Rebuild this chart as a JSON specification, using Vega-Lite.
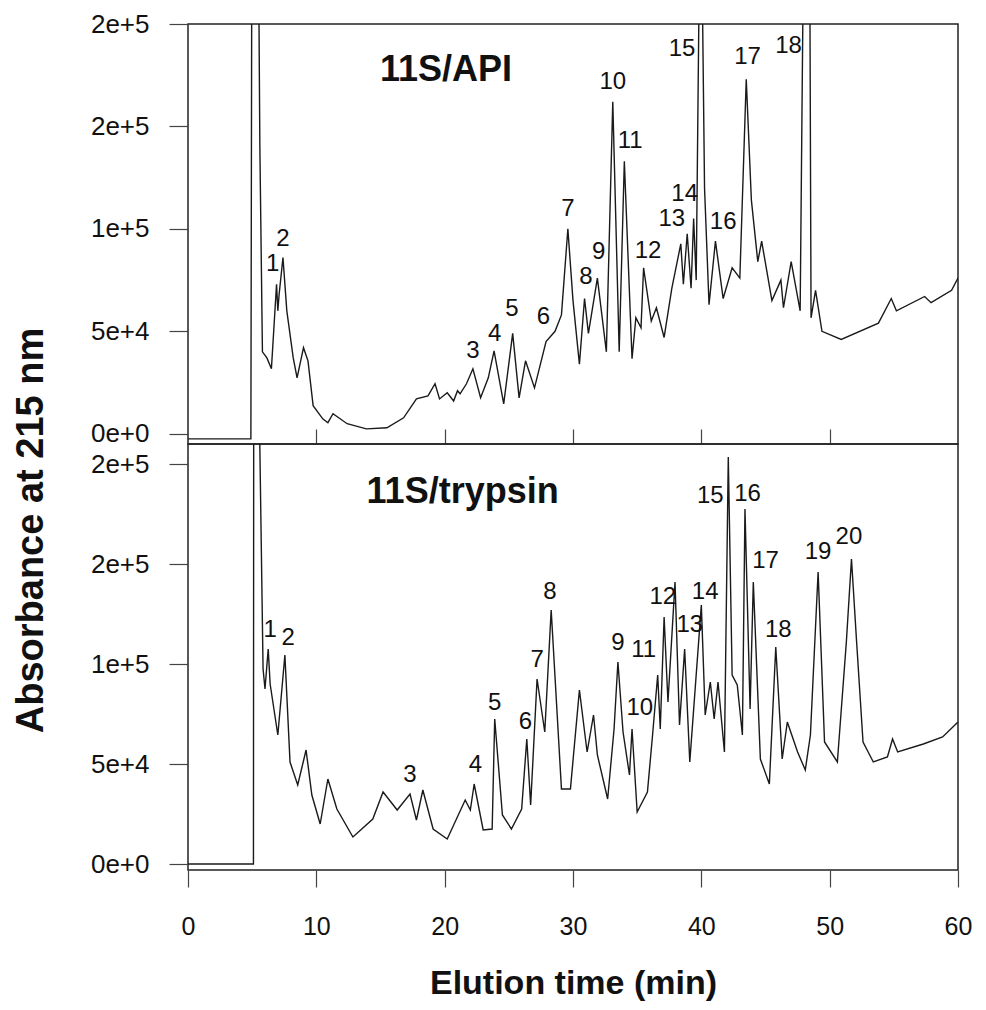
{
  "$schema": "https://vega.github.io/schema/vega-lite/v6.json",
  "background": "white",
  "padding": {"left": 11, "top": 10, "right": 5, "bottom": 5},
  "spacing": 0,
  "bounds": "flush",
  "config": {
    "font": "Liberation Sans",
    "view": {"stroke": "#222", "strokeWidth": 1.5},
    "axis": {"grid": false, "domain": false, "tickColor": "#444", "tickWidth": 1.2, "labelColor": "#111", "titleColor": "#111", "labelFont": "Liberation Sans", "titleFont": "Liberation Sans"}
  },
  "datasets": {
    "api": [
      {"t": 0, "a": -2500}, {"t": 4.9, "a": -2500}, {"t": 4.97, "a": 230000}, {"t": 5.5, "a": 230000},
      {"t": 5.6, "a": 140000}, {"t": 5.8, "a": 40000}, {"t": 6.15, "a": 37000}, {"t": 6.5, "a": 31700},
      {"t": 6.9, "a": 73000}, {"t": 7.0, "a": 60000}, {"t": 7.1, "a": 68000}, {"t": 7.4, "a": 86000},
      {"t": 7.7, "a": 60000}, {"t": 8.2, "a": 37000}, {"t": 8.5, "a": 27300}, {"t": 9.0, "a": 42000},
      {"t": 9.35, "a": 35600}, {"t": 9.75, "a": 13700}, {"t": 10.5, "a": 7300}, {"t": 10.9, "a": 5400},
      {"t": 11.3, "a": 9800}, {"t": 12.4, "a": 4900}, {"t": 13.9, "a": 2400}, {"t": 15.5, "a": 2900},
      {"t": 16.8, "a": 7800}, {"t": 17.8, "a": 17000}, {"t": 18.7, "a": 18500}, {"t": 19.25, "a": 24400},
      {"t": 19.6, "a": 17000}, {"t": 20.2, "a": 20000}, {"t": 20.7, "a": 16000}, {"t": 21.0, "a": 21000},
      {"t": 21.2, "a": 19500}, {"t": 21.7, "a": 24400}, {"t": 22.2, "a": 31700}, {"t": 22.8, "a": 17600},
      {"t": 23.4, "a": 27300}, {"t": 23.85, "a": 40500}, {"t": 24.6, "a": 14600}, {"t": 25.3, "a": 49000},
      {"t": 25.8, "a": 17500}, {"t": 26.3, "a": 35600}, {"t": 27.0, "a": 22400}, {"t": 27.9, "a": 45000},
      {"t": 28.6, "a": 50000}, {"t": 29.1, "a": 58000}, {"t": 29.6, "a": 100000}, {"t": 30.0, "a": 65000},
      {"t": 30.5, "a": 34000}, {"t": 30.9, "a": 66000}, {"t": 31.2, "a": 49000}, {"t": 31.9, "a": 76000},
      {"t": 32.6, "a": 40000}, {"t": 33.1, "a": 162000}, {"t": 33.6, "a": 40000}, {"t": 34.0, "a": 133000},
      {"t": 34.6, "a": 36600}, {"t": 34.9, "a": 56600}, {"t": 35.3, "a": 51700}, {"t": 35.5, "a": 81000},
      {"t": 36.1, "a": 55000}, {"t": 36.5, "a": 61500}, {"t": 37.1, "a": 47000}, {"t": 37.7, "a": 71000},
      {"t": 38.4, "a": 92700}, {"t": 38.6, "a": 73000}, {"t": 38.9, "a": 97600}, {"t": 39.2, "a": 71000},
      {"t": 39.4, "a": 105000}, {"t": 39.6, "a": 75000}, {"t": 39.85, "a": 230000}, {"t": 40.05, "a": 230000},
      {"t": 40.25, "a": 120000}, {"t": 40.6, "a": 63000}, {"t": 41.1, "a": 94000}, {"t": 41.7, "a": 66000},
      {"t": 42.4, "a": 81000}, {"t": 43.0, "a": 76000}, {"t": 43.5, "a": 173000}, {"t": 43.9, "a": 114000},
      {"t": 44.4, "a": 84000}, {"t": 44.7, "a": 94000}, {"t": 45.5, "a": 65000}, {"t": 46.2, "a": 75000},
      {"t": 46.4, "a": 61500}, {"t": 47.0, "a": 84000}, {"t": 47.7, "a": 60000}, {"t": 47.95, "a": 230000},
      {"t": 48.45, "a": 230000}, {"t": 48.55, "a": 56600}, {"t": 48.9, "a": 70000}, {"t": 49.4, "a": 50000},
      {"t": 50.9, "a": 46000}, {"t": 53.8, "a": 54000}, {"t": 54.8, "a": 66000}, {"t": 55.2, "a": 60000},
      {"t": 57.4, "a": 67000}, {"t": 57.9, "a": 64000}, {"t": 59.5, "a": 70000}, {"t": 60, "a": 76000}
    ],
    "apiLab": [
      {"t": 6.6, "a": 79500, "label": "1"}, {"t": 7.4, "a": 91700, "label": "2"},
      {"t": 22.2, "a": 37100, "label": "3"}, {"t": 23.9, "a": 45400, "label": "4"},
      {"t": 25.25, "a": 57600, "label": "5"}, {"t": 27.7, "a": 53700, "label": "6"},
      {"t": 29.6, "a": 106400, "label": "7"}, {"t": 31.0, "a": 73200, "label": "8"},
      {"t": 32.0, "a": 85400, "label": "9"}, {"t": 33.1, "a": 168400, "label": "10"},
      {"t": 34.45, "a": 139600, "label": "11"}, {"t": 35.85, "a": 85900, "label": "12"},
      {"t": 37.7, "a": 101500, "label": "13"}, {"t": 38.7, "a": 113700, "label": "14"},
      {"t": 38.5, "a": 184500, "label": "15"}, {"t": 41.7, "a": 100000, "label": "16"},
      {"t": 43.6, "a": 180600, "label": "17"}, {"t": 46.8, "a": 186000, "label": "18"}
    ],
    "apiTitle": [{"t": 20.1, "a": 172300, "label": "11S/API"}],
    "tryp": [
      {"t": 0, "a": 0}, {"t": 5.1, "a": 0}, {"t": 5.12, "a": 230000}, {"t": 5.55, "a": 230000},
      {"t": 5.85, "a": 97500}, {"t": 6.0, "a": 87500}, {"t": 6.25, "a": 107500}, {"t": 6.4, "a": 90000},
      {"t": 7.0, "a": 64500}, {"t": 7.55, "a": 104500}, {"t": 7.95, "a": 51000}, {"t": 8.55, "a": 39500},
      {"t": 9.2, "a": 57000}, {"t": 9.65, "a": 34500}, {"t": 10.3, "a": 20000}, {"t": 10.9, "a": 42500},
      {"t": 11.6, "a": 27500}, {"t": 12.85, "a": 13500}, {"t": 14.4, "a": 22500}, {"t": 15.2, "a": 36000},
      {"t": 16.3, "a": 27000}, {"t": 17.3, "a": 35000}, {"t": 17.8, "a": 22000}, {"t": 18.3, "a": 37000},
      {"t": 19.1, "a": 17500}, {"t": 20.2, "a": 12500}, {"t": 21.6, "a": 32000}, {"t": 22.0, "a": 27000},
      {"t": 22.3, "a": 40000}, {"t": 23.0, "a": 17000}, {"t": 23.7, "a": 17500}, {"t": 23.9, "a": 72500},
      {"t": 24.5, "a": 24500}, {"t": 25.2, "a": 17500}, {"t": 26.0, "a": 27500}, {"t": 26.4, "a": 62500},
      {"t": 26.7, "a": 29500}, {"t": 27.2, "a": 92500}, {"t": 27.8, "a": 66000}, {"t": 28.3, "a": 127000},
      {"t": 29.1, "a": 37500}, {"t": 29.8, "a": 37500}, {"t": 30.5, "a": 87000}, {"t": 31.1, "a": 56000},
      {"t": 31.6, "a": 74500}, {"t": 31.9, "a": 54500}, {"t": 32.7, "a": 32500}, {"t": 33.2, "a": 67500},
      {"t": 33.5, "a": 101000}, {"t": 33.9, "a": 66000}, {"t": 34.4, "a": 44500}, {"t": 34.6, "a": 67500},
      {"t": 35.0, "a": 26000}, {"t": 35.8, "a": 36000}, {"t": 36.2, "a": 64500}, {"t": 36.6, "a": 94500},
      {"t": 36.8, "a": 67500}, {"t": 37.1, "a": 123500}, {"t": 37.4, "a": 81000}, {"t": 37.95, "a": 141000},
      {"t": 38.3, "a": 69500}, {"t": 38.7, "a": 107500}, {"t": 39.1, "a": 51000}, {"t": 40.0, "a": 129500},
      {"t": 40.3, "a": 74500}, {"t": 40.7, "a": 91000}, {"t": 41.0, "a": 72500}, {"t": 41.3, "a": 91000},
      {"t": 41.8, "a": 56000}, {"t": 42.1, "a": 203500}, {"t": 42.4, "a": 94500}, {"t": 42.8, "a": 89500},
      {"t": 43.2, "a": 64500}, {"t": 43.4, "a": 177500}, {"t": 43.8, "a": 77500}, {"t": 44.05, "a": 141000},
      {"t": 44.6, "a": 52500}, {"t": 45.3, "a": 40000}, {"t": 45.8, "a": 108500}, {"t": 46.3, "a": 52500},
      {"t": 46.7, "a": 71000}, {"t": 47.5, "a": 56000}, {"t": 48.1, "a": 47000}, {"t": 48.5, "a": 64500},
      {"t": 49.1, "a": 146000}, {"t": 49.6, "a": 61000}, {"t": 50.6, "a": 51000}, {"t": 51.3, "a": 111000},
      {"t": 51.7, "a": 152500}, {"t": 52.1, "a": 111000}, {"t": 52.6, "a": 61000}, {"t": 53.4, "a": 51000},
      {"t": 54.5, "a": 53500}, {"t": 54.9, "a": 62500}, {"t": 55.3, "a": 56000}, {"t": 57.3, "a": 60000},
      {"t": 58.8, "a": 63500}, {"t": 60, "a": 71000}
    ],
    "trypLab": [
      {"t": 6.4, "a": 113700, "label": "1"}, {"t": 7.8, "a": 109700, "label": "2"},
      {"t": 17.3, "a": 41100, "label": "3"}, {"t": 22.4, "a": 46100, "label": "4"},
      {"t": 23.9, "a": 77200, "label": "5"}, {"t": 26.3, "a": 67600, "label": "6"},
      {"t": 27.2, "a": 98700, "label": "7"}, {"t": 28.2, "a": 132300, "label": "8"},
      {"t": 33.5, "a": 107200, "label": "9"}, {"t": 35.2, "a": 74600, "label": "10"},
      {"t": 35.5, "a": 103700, "label": "11"}, {"t": 37.0, "a": 129800, "label": "12"},
      {"t": 39.1, "a": 116200, "label": "13"}, {"t": 40.3, "a": 132300, "label": "14"},
      {"t": 40.7, "a": 180400, "label": "15"}, {"t": 43.6, "a": 181400, "label": "16"},
      {"t": 45.0, "a": 147800, "label": "17"}, {"t": 46.0, "a": 113700, "label": "18"},
      {"t": 49.1, "a": 152300, "label": "19"}, {"t": 51.5, "a": 159800, "label": "20"}
    ],
    "trypTitle": [{"t": 21.4, "a": 180400, "label": "11S/trypsin"}]
  },
  "vconcat": [
    {
      "width": 770,
      "height": 420,
      "encoding": {
        "x": {
          "field": "t", "type": "quantitative",
          "scale": {"domain": [0, 60], "nice": false, "zero": false},
          "axis": {"values": [10, 20, 30, 40, 50], "labels": false, "tickSize": -15, "title": null}
        },
        "y": {
          "field": "a", "type": "quantitative",
          "scale": {"domain": [-5000, 200000], "nice": false, "zero": false},
          "axis": {
            "values": [0, 50000, 100000, 150000, 200000], "format": ".0e",
            "tickSize": 19, "labelPadding": 20, "labelFontSize": 26,
            "title": "Absorbance at 215 nm", "titleAngle": -90, "titleX": -146, "titleY": 506,
            "titleAlign": "center", "titleBaseline": "alphabetic", "titleFontSize": 38, "titleFontWeight": "bold"
          }
        }
      },
      "layer": [
        {"data": {"name": "api"}, "mark": {"type": "line", "clip": true, "color": "#1a1a1a", "strokeWidth": 1.4}},
        {"data": {"name": "apiLab"}, "mark": {"type": "text", "fontSize": 24, "align": "center", "baseline": "alphabetic", "color": "#111"}, "encoding": {"text": {"field": "label"}}},
        {"data": {"name": "apiTitle"}, "mark": {"type": "text", "fontSize": 36, "fontWeight": "bold", "align": "center", "baseline": "alphabetic", "color": "#111"}, "encoding": {"text": {"field": "label"}}}
      ]
    },
    {
      "width": 770,
      "height": 426,
      "encoding": {
        "x": {
          "field": "t", "type": "quantitative",
          "scale": {"domain": [0, 60], "nice": false, "zero": false},
          "axis": {"values": [0, 10, 20, 30, 40, 50, 60], "tickSize": 17, "labelPadding": 27, "labelFontSize": 25, "labelFlush": false,
            "title": "Elution time (min)", "titleFontSize": 34, "titleFontWeight": "bold", "titlePadding": 27}
        },
        "y": {
          "field": "a", "type": "quantitative",
          "scale": {"domain": [-3000, 210000], "nice": false, "zero": false},
          "axis": {"values": [0, 50000, 100000, 150000, 200000], "format": ".0e", "tickSize": 19, "labelPadding": 20, "labelFontSize": 26, "title": null}
        }
      },
      "layer": [
        {"data": {"name": "tryp"}, "mark": {"type": "line", "clip": true, "color": "#1a1a1a", "strokeWidth": 1.4}},
        {"data": {"name": "trypLab"}, "mark": {"type": "text", "fontSize": 24, "align": "center", "baseline": "alphabetic", "color": "#111"}, "encoding": {"text": {"field": "label"}}},
        {"data": {"name": "trypTitle"}, "mark": {"type": "text", "fontSize": 36, "fontWeight": "bold", "align": "center", "baseline": "alphabetic", "color": "#111"}, "encoding": {"text": {"field": "label"}}}
      ]
    }
  ]
}
